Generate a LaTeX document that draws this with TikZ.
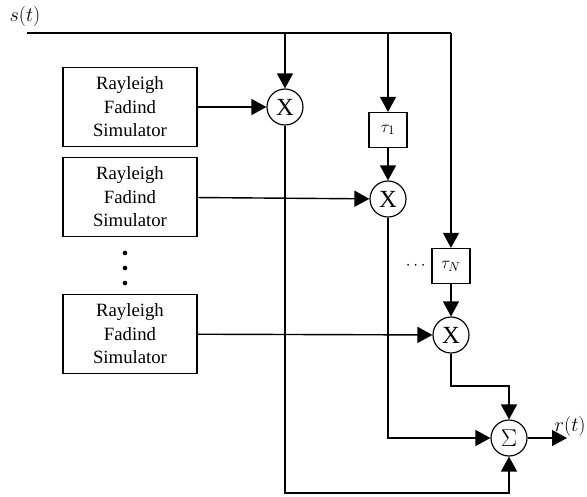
\documentclass[tikz,border=0pt]{standalone}
\usepackage{fontspec}
\setmainfont{Liberation Serif}
\usetikzlibrary{arrows.meta,positioning}

\begin{document}
\begin{tikzpicture}[
  x=0.03cm,y=-0.03cm,
  simbox/.style={
    draw,
    line width=1.2pt,
    minimum width=4.02cm,
    minimum height=2.37cm,
    align=center,
    font=\fontsize{16}{20}\selectfont
  },
  mult/.style={
    draw,
    circle,
    line width=1pt,
    inner sep=0pt,
    minimum size=1.08cm,
    font=\fontsize{21}{22}\selectfont
  },
  delay/.style={
    draw,
    line width=1pt,
    minimum width=1.14cm,
    minimum height=1.05cm,
    font=\fontsize{15}{17}\selectfont
  },
  arrow/.style={-{Triangle[length=0.45cm,width=0.48cm]},line width=1.2pt}
]
  \useasboundingbox (0,0) rectangle (587,496);
  % input and output
  \node[font=\fontsize{18}{20}\selectfont] (sig) at (25,16) {$s(t)$};
  \coordinate (sin) at (27,33);
  \coordinate (bot) at (0,493);
  \coordinate (join) at (0,386);
  % fading simulators
  \node[simbox] (sim1) at (130,107) {Rayleigh\\Fadind\\Simulator};
  \node[simbox] (sim2) at (130,197) {Rayleigh\\Fadind\\Simulator};
  \node[simbox] (sim3) at (130,334) {Rayleigh\\Fadind\\Simulator};
  \foreach \y in {253,268,283} \fill (125,\y) circle (2pt);
  % delays and multipliers
  \node[mult] (mul1) at (285,107) {X};
  \node[delay] (tau1) at (388,130) {$\tau_1$};
  \node[mult] (mul2) at (388,199) {X};
  \node[delay] (tauN) at (451,266) {$\tau_N$};
  \node[mult] (mul3) at (451,335) {X};
  \node[left=0.05cm of tauN,font=\fontsize{15}{17}\selectfont] (hdots) {$\cdots$};
  \node[mult] (sum) at (509,438) {$\Sigma$};
  \coordinate (out) at (567,438);
  \node[anchor=east,inner sep=1pt,font=\fontsize{16}{18}\selectfont] (rout) at (587,426) {$r(t)$};
  % connections
  \draw[line width=1.2pt] (sin) -- (tauN |- sin);
  \draw[arrow] (mul1 |- sin) -- (mul1);
  \draw[arrow] (tau1 |- sin) -- (tau1);
  \draw[arrow] (tauN |- sin) -- (tauN);
  \draw[arrow] (tau1) -- (mul2);
  \draw[arrow] (tauN) -- (mul3);
  \draw[arrow] (sim1) -- (mul1);
  \draw[arrow] (sim2) -- (mul2);
  \draw[arrow] (sim3) -- (mul3);
  \draw[arrow] (mul3) -- (mul3 |- join) -| (sum);
  \draw[arrow] (mul2) |- (sum);
  \draw[arrow] (mul1) -- (mul1 |- bot) -| (sum);
  \draw[arrow] (sum) -- (out);
\end{tikzpicture}
\end{document}
